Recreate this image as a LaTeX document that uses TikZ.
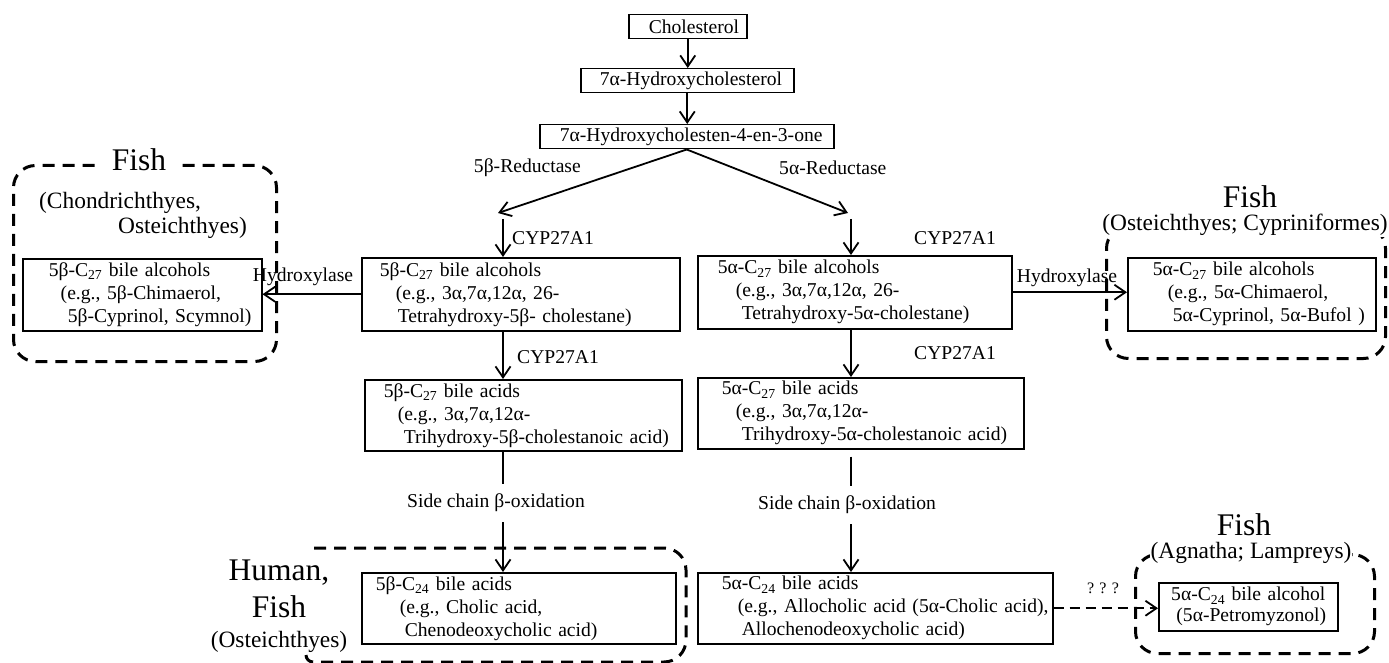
\documentclass[tikz,border=0pt]{standalone}
\usepackage{fontspec}
\setmainfont{Liberation Serif}
\usetikzlibrary{arrows.meta,calc}
\newcommand\bline[2]{\hspace*{#1pt}\mbox{#2}}
\begin{document}
\begin{tikzpicture}[x=1pt,y=-1pt,
  font=\fontsize{19.6}{23}\selectfont,
  bx/.style={draw, line width=1.5pt, inner sep=0pt, anchor=north west, align=left},
  lbl/.style={inner sep=1pt},
  bigt/.style={font=\fontsize{31.5}{37}\selectfont, inner sep=1pt},
  midt/.style={font=\fontsize{23.4}{28}\selectfont, inner sep=1pt},
  arr/.style={line width=1.8pt, -{Straight Barb[length=11pt,width=15pt,line width=1.8pt]}},
  plain/.style={line width=1.8pt},
  dline/.style={line width=3pt, dash pattern=on 12pt off 8pt, rounded corners=22pt},
  dbox/.style={draw, dline, anchor=north west, inner sep=0pt},
]
\fill[white] (0,0) rectangle (1389,663);
\useasboundingbox (0,0) rectangle (1389,663);

% dashed groups
\node[dbox, minimum width=263pt, minimum height=196pt] (grpL) at (12,164) {};
\node[dbox, minimum width=279pt, minimum height=132pt] (grpR) at (1105,225) {};
\node[dbox, minimum width=239pt, minimum height=99pt] (grpA) at (1134,553) {};
\draw[dline] (314,548) -- (686,548) -- (686,662) [rounded corners=7pt] -- (306,662) -- (306,655);

% group titles
\node[bigt, fill=white, inner xsep=14pt, inner ysep=3pt] (tL) at (139,160) {Fish};
\node[midt, anchor=west] (cL1) at (38,203) {(Chondrichthyes,};
\node[midt, anchor=east] (cL2) at (248,228) {Osteichthyes)};
\node[bigt] (tR) at (1250,197) {Fish};
\node[midt, fill=white] (cR) at (1245,225) {(Osteichthyes; Cypriniformes)};
\node[bigt] (tA) at (1244,525) {Fish};
\node[midt, fill=white] (cA) at (1251,553) {(Agnatha; Lampreys)};
\node[bigt, align=center] (tH) at (279,606) {Human,\\Fish\\[-7pt]{\fontsize{23.4}{28}\selectfont (Osteichthyes)}};

% main boxes
\node[bx, text width=118pt, minimum height=24pt] (chol) at (628,14) {\bline{20}{Cholesterol}};
\node[bx, text width=213pt, minimum height=24pt] (hyd) at (580,68) {\bline{19}{7α-Hydroxycholesterol}};
\node[bx, text width=294pt, minimum height=24pt] (one) at (539,124) {\bline{20}{7α-Hydroxycholesten-4-en-3-one}};

\node[bx, text width=318pt, minimum height=73pt] (balc) at (361,257)
  {\bline{18}{5β-C\textsubscript{27} bile alcohols}\\\bline{34}{(e.g., 3α,7α,12α, 26-}\\\bline{36}{Tetrahydroxy-5β- cholestane)}};
\node[bx, text width=314pt, minimum height=73pt] (aalc) at (697,255)
  {\bline{20}{5α-C\textsubscript{27} bile alcohols}\\\bline{38}{(e.g., 3α,7α,12α, 26-}\\\bline{44}{Tetrahydroxy-5α-cholestane)}};
\node[bx, text width=317pt, minimum height=71pt] (bacid) at (364,379)
  {\bline{19}{5β-C\textsubscript{27} bile acids}\\\bline{33}{(e.g., 3α,7α,12α-}\\\bline{39}{Trihydroxy-5β-cholestanoic acid)}};
\node[bx, text width=326pt, minimum height=71pt] (aacid) at (697,377)
  {\bline{24}{5α-C\textsubscript{27} bile acids}\\\bline{38}{(e.g., 3α,7α,12α-}\\\bline{44}{Trihydroxy-5α-cholestanoic acid)}};
\node[bx, text width=314pt, minimum height=71pt] (b24) at (361,572)
  {\bline{14}{5β-C\textsubscript{24} bile acids}\\\bline{38}{(e.g., Cholic acid,}\\\bline{43}{Chenodeoxycholic acid)}};
\node[bx, text width=355pt, minimum height=71pt] (a24) at (697,572)
  {\bline{24}{5α-C\textsubscript{24} bile acids}\\\bline{40}{(e.g., Allocholic acid (5α-Cholic acid),}\\\bline{44}{Allochenodeoxycholic acid)}};
\node[bx, text width=239pt, minimum height=72pt] (lalc) at (22,258)
  {\bline{26}{5β-C\textsubscript{27} bile alcohols}\\\bline{38}{(e.g., 5β-Chimaerol,}\\\bline{45}{5β-Cyprinol, Scymnol)}};
\node[bx, text width=248pt, minimum height=73pt] (ralc) at (1127,257)
  {\bline{25}{5α-C\textsubscript{27} bile alcohols}\\\bline{40}{(e.g., 5α-Chimaerol,}\\\bline{45}{5α-Cyprinol, 5α-Bufol )}};
\node[bx, text width=179pt, minimum height=48pt, align=center, font=\fontsize{19.6}{21}\selectfont] (petro) at (1158,582)
  {5α-C\textsubscript{24} bile alcohol\\\hspace*{6pt}(5α-Petromyzonol)};

% labels
\node[lbl, anchor=east] (redB) at (582,168) {5β-Reductase};
\node[lbl, anchor=west] (redA) at (778,168) {5α-Reductase};
\node[lbl, anchor=west] (cyp1) at (511,238) {CYP27A1};
\node[lbl, anchor=west] (cyp2) at (913,238) {CYP27A1};
\node[lbl, anchor=west] (cyp3) at (516,357) {CYP27A1};
\node[lbl, anchor=west] (cyp4) at (913,353) {CYP27A1};
\node[lbl] (hydL) at (303,277) {Hydroxylase};
\node[lbl] (hydR) at (1067,278) {Hydroxylase};
\node[lbl, inner ysep=10pt] (sideL) at (496,503) {Side chain β-oxidation};
\node[lbl, inner ysep=10pt] (sideR) at (847,505) {Side chain β-oxidation};
\node[lbl, font=\fontsize{16}{19}\selectfont] (qqq) at (1103,588) {? ? ?};

% helper points
\coordinate (ltip) at (498,213);
\coordinate (lstart) at (503,219);
\coordinate (rtip) at (848,213);
\coordinate (rstart) at (851,219);

% connectors
\draw[arr] (chol.south) -- (chol.south |- hyd.north);
\draw[arr] (hyd.south) -- (hyd.south |- one.north);
\draw[arr] (one.south) -- (ltip);
\draw[arr] (one.south) -- (rtip);
\draw[arr] (lstart) -- (lstart |- balc.north);
\draw[arr] (rstart) -- (rstart |- aalc.north);
\draw[arr] (lstart |- balc.south) -- (lstart |- bacid.north);
\draw[arr] (rstart |- aalc.south) -- (rstart |- aacid.north);
\draw[plain] (lstart |- bacid.south) -- (lstart |- sideL.north);
\draw[arr] (lstart |- sideL.south) -- (lstart |- b24.north);
\draw[plain] ($(rstart |- aacid.south)+(0,7)$) -- (rstart |- sideR.north);
\draw[arr] (rstart |- sideR.south) -- (rstart |- a24.north);
\draw[arr] (balc.west) -- (balc.west -| lalc.east);
\draw[arr] (aalc.east) -- (aalc.east -| ralc.west);
\draw[arr, dash pattern=on 10pt off 6pt] (a24.east) -- (a24.east -| petro.west);
\end{tikzpicture}
\end{document}
